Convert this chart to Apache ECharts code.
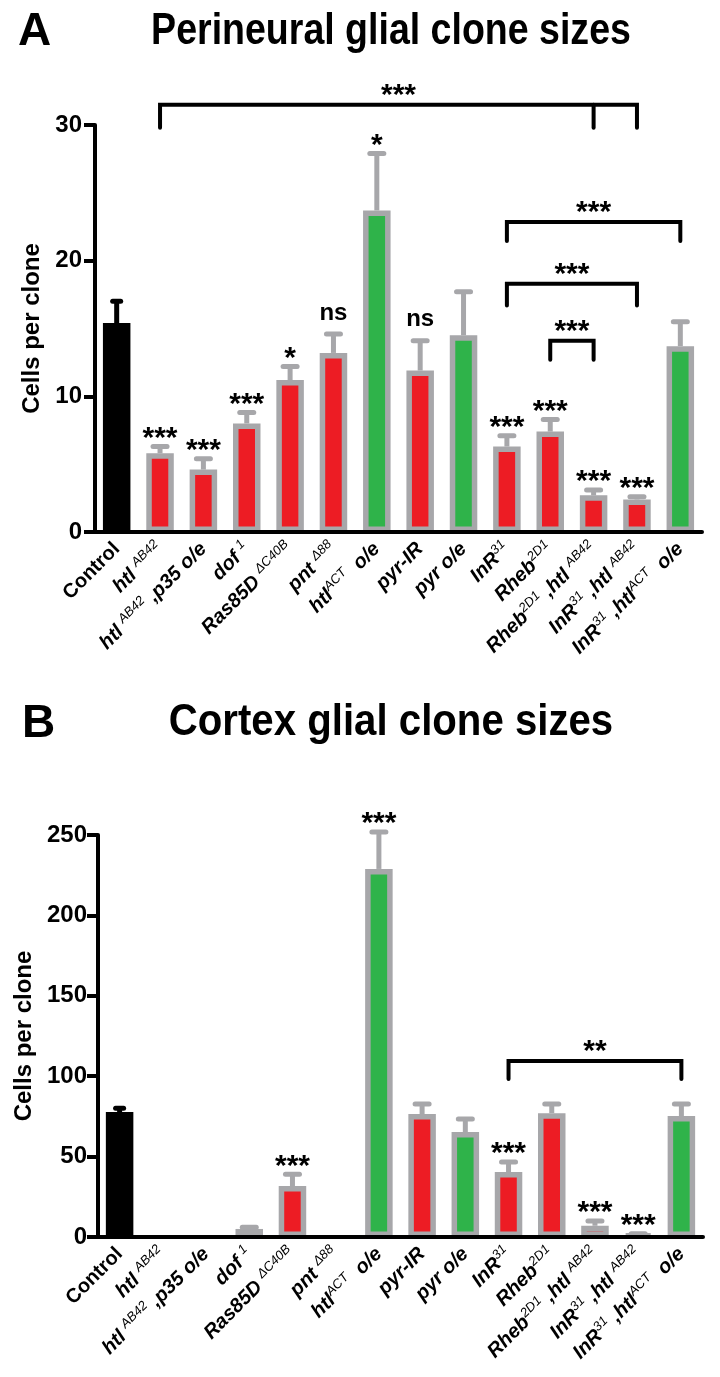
<!DOCTYPE html>
<html><head><meta charset="utf-8">
<script src="https://cdn.jsdelivr.net/npm/echarts@6/dist/echarts.min.js"></script>
<style>html,body{margin:0;padding:0;background:#fff}#c{width:720px;height:1377px}</style>
</head><body><div id="c"></div>
<script>
// ---------- data ----------
const categories = ['Control','htl ^{AB42}','htl ^{AB42} ,p35 o/e','dof ^{1}','Ras85D ^{ΔC40B}','pnt ^{Δ88}','htl^{ACT}  o/e','pyr-IR','pyr o/e','InR^{31}','Rheb^{2D1}','Rheb^{2D1} ,htl ^{AB42}','InR^{31} ,htl ^{AB42}','InR^{31} ,htl^{ACT}  o/e'];
const groupType = ['control','red','red','red','red','red','green','red','green','red','red','red','red','green'];

const titleA = 'Perineural glial clone sizes';
const titleB = 'Cortex glial clone sizes';
const yNameA = 'Cells per clone';
const yNameB = 'Cells per clone';

const meanA = [15.4, 5.8, 4.6, 8.0, 11.2, 13.2, 23.7, 11.9, 14.5, 6.3, 7.4, 2.7, 2.4, 13.7];
const semA  = [1.6, 0.5, 0.8, 0.8, 1.0, 1.4, 4.2, 2.2, 3.2, 0.8, 0.9, 0.4, 0.2, 1.8];
const sigA  = ['', '***', '***', '***', '*', 'ns', '*', 'ns', '', '***', '***', '***', '***', ''];
const yTicksA = [0, 10, 20, 30];

const meanB = [77.7, 0, 0, 5, 31.7, 0, 228.9, 76.5, 65.3, 40.4, 77.0, 7.0, 1.5, 75.2];
const semB  = [2.3, 0, 0, 1, 7.3, 0, 23.0, 6.2, 8.1, 6.2, 5.7, 3.0, 0.5, 7.5];
const sigB  = ['', '', '', '', '***', '', '***', '', '', '***', '', '***', '***', ''];
const yTicksB = [0, 50, 100, 150, 200, 250];

// brackets: legs (category indices), line value, leg-end value, label
const bracketLegsA = [[1, 11, 12], [9, 13], [9, 12], [10, 11]];
const bracketLineA = [31.5, 22.85, 18.3, 14.1];
const bracketEndA  = [29.8, 21.45, 16.7, 12.7];
const bracketTextA = ['***', '***', '***', '***'];

const bracketLegsB = [[9, 13]];
const bracketLineB = [109.5];
const bracketEndB  = [98.3];
const bracketTextB = ['**'];

// ---------- style ----------
const RED = '#ED1C24', GREEN = '#2FB34A', GRAY = '#A7A7AA', BLACK = '#000';
const FONT = '"Liberation Sans", Arial, sans-serif';
const fillOf = t => t === 'control' ? BLACK : (t === 'green' ? GREEN : RED);

function richLabel(s, i) {
  if (groupType[i] === 'control') return '{c|' + s + '}';
  const parts = s.split(/\^\{([^}]*)\}/);
  let out = '';
  parts.forEach((p, k) => { if (p) out += (k % 2 ? '{s|' + p + '}' : '{m|' + p + '}'); });
  return out;
}

function xAxisCfg(gi) {
  return {
    type: 'category', gridIndex: gi, data: categories, z: 10,
    axisLine: { lineStyle: { color: BLACK, width: 4 } },
    axisTick: { alignWithLabel: true, length: 11, lineStyle: { color: BLACK, width: 4 } },
    axisLabel: {
      interval: 0, rotate: 45, margin: 14, color: BLACK,
      formatter: (v, i) => richLabel(v, i),
      rich: {
        c: { fontFamily: FONT, fontSize: 20, fontWeight: 'bold', lineHeight: 24 },
        m: { fontFamily: FONT, fontSize: 20, fontWeight: 'bold', fontStyle: 'italic', lineHeight: 24 },
        s: { fontFamily: FONT, fontSize: 13, fontStyle: 'italic', lineHeight: 13, verticalAlign: 'top' }
      }
    }
  };
}
function yAxisCfg(gi, ticks, name, gap, margin) {
  return {
    type: 'value', gridIndex: gi, min: ticks[0], max: ticks[ticks.length - 1], interval: ticks[1] - ticks[0],
    name: name, nameLocation: 'middle', nameGap: gap,
    nameTextStyle: { fontFamily: FONT, fontSize: 24, fontWeight: 'bold', color: BLACK },
    axisLine: { show: true, lineStyle: { color: BLACK, width: 4 } },
    axisTick: { show: true, length: 11, lineStyle: { color: BLACK, width: 4 } },
    axisLabel: { margin: margin, fontFamily: FONT, fontSize: 24, fontWeight: 'bold', color: BLACK },
    splitLine: { show: false }
  };
}

function barSeries(gi, mean) {
  return {
    type: 'bar', xAxisIndex: gi, yAxisIndex: gi, barWidth: 27.5, z: 2,
    data: mean.map((v, i) => ({
      value: v,
      itemStyle: {
        color: fillOf(groupType[i]),
        borderColor: groupType[i] === 'control' ? BLACK : GRAY,
        borderWidth: v > 0 ? 5.5 : 0
      }
    }))
  };
}
function errSeries(gi, mean, sem) {
  return {
    type: 'custom', xAxisIndex: gi, yAxisIndex: gi, clip: false, z: 3,
    encode: { x: 0, y: [1, 2] },
    data: mean.map((m, i) => [i, m, m + sem[i]]),
    renderItem(params, api) {
      const i = api.value(0), m = api.value(1), t = api.value(2);
      if (!(m > 0) || !(t > m)) return null;
      const a = api.coord([i, m]), b = api.coord([i, t]);
      const ctl = groupType[i] === 'control';
      const col = ctl ? BLACK : GRAY, half = ctl ? 4 : 7;
      return { type: 'group', children: [
        { type: 'line', shape: { x1: a[0], y1: a[1], x2: b[0], y2: b[1] }, style: { stroke: col, lineWidth: 5 } },
        { type: 'line', shape: { x1: b[0] - half, y1: b[1], x2: b[0] + half, y2: b[1] }, style: { stroke: col, lineWidth: 5, lineCap: 'round' } }
      ]};
    }
  };
}
function sigSeries(gi, mean, sem, sig) {
  return {
    type: 'custom', xAxisIndex: gi, yAxisIndex: gi, clip: false, z: 4,
    encode: { x: 0, y: 1 },
    data: mean.map((m, i) => [i, m + sem[i]]),
    renderItem(params, api) {
      const i = params.dataIndex, txt = sig[i];
      if (!txt) return null;
      const p = api.coord([api.value(0), api.value(1)]);
      const star = txt.indexOf('*') >= 0;
      return { type: 'text', x: p[0], y: p[1] - (star ? 8 : 21),
        style: { text: txt, fill: BLACK, align: 'center', verticalAlign: 'middle',
          font: 'bold ' + (star ? 30 : 24) + 'px ' + FONT } };
    }
  };
}
function bracketSeries(gi, legs, line, end, text) {
  return {
    type: 'custom', xAxisIndex: gi, yAxisIndex: gi, clip: false, z: 5,
    encode: { x: 0, y: 1 },
    data: legs.map((l, k) => [l[0], line[k]]),
    renderItem(params, api) {
      const k = params.dataIndex, L = legs[k];
      const pts = L.map(c => [api.coord([c, line[k]]), api.coord([c, end[k]])]);
      const x1 = pts[0][0][0], xn = pts[pts.length - 1][0][0];
      const yl = pts[0][0][1], ye = pts[0][1][1];
      const children = [
        { type: 'polyline', shape: { points: [[x1, ye], [x1, yl], [xn, yl], [xn, ye]] },
          style: { stroke: BLACK, lineWidth: 4, fill: null, lineCap: 'round', lineJoin: 'miter' } }
      ];
      for (let j = 1; j < pts.length - 1; j++) {
        children.push({ type: 'line', shape: { x1: pts[j][0][0], y1: yl, x2: pts[j][0][0], y2: ye },
          style: { stroke: BLACK, lineWidth: 4, lineCap: 'round' } });
      }
      children.push({ type: 'text', x: (x1 + xn) / 2, y: yl - 9,
        style: { text: text[k], fill: BLACK, align: 'center', verticalAlign: 'middle', font: 'bold 30px ' + FONT } });
      return { type: 'group', children };
    }
  };
}

const chart = echarts.init(document.getElementById('c'), null, { renderer: 'canvas' });
chart.setOption({
  animation: false,
  backgroundColor: '#fff',
  grid: [
    { left: 95, right: 18, top: 125, bottom: 845 },
    { left: 98, right: 17, top: 835, bottom: 140 }
  ],
  xAxis: [xAxisCfg(0), xAxisCfg(1)],
  yAxis: [yAxisCfg(0, yTicksA, yNameA, 50, 13), yAxisCfg(1, yTicksB, yNameB, 61, 11)],
  graphic: [
    { type: 'text', x: 18, y: 32, style: { text: 'A', fill: BLACK, verticalAlign: 'middle', font: 'bold 46px ' + FONT } },
    { type: 'text', x: 391, y: 32, scaleX: 0.834, style: { text: titleA, fill: BLACK, align: 'center', verticalAlign: 'middle', font: 'bold 45px ' + FONT } },
    { type: 'text', x: 22, y: 724, style: { text: 'B', fill: BLACK, verticalAlign: 'middle', font: 'bold 46px ' + FONT } },
    { type: 'text', x: 391, y: 723, scaleX: 0.893, style: { text: titleB, fill: BLACK, align: 'center', verticalAlign: 'middle', font: 'bold 45px ' + FONT } }
  ],
  series: [
    barSeries(0, meanA), errSeries(0, meanA, semA), sigSeries(0, meanA, semA, sigA),
    bracketSeries(0, bracketLegsA, bracketLineA, bracketEndA, bracketTextA),
    barSeries(1, meanB), errSeries(1, meanB, semB), sigSeries(1, meanB, semB, sigB),
    bracketSeries(1, bracketLegsB, bracketLineB, bracketEndB, bracketTextB)
  ]
});
</script></body></html>
